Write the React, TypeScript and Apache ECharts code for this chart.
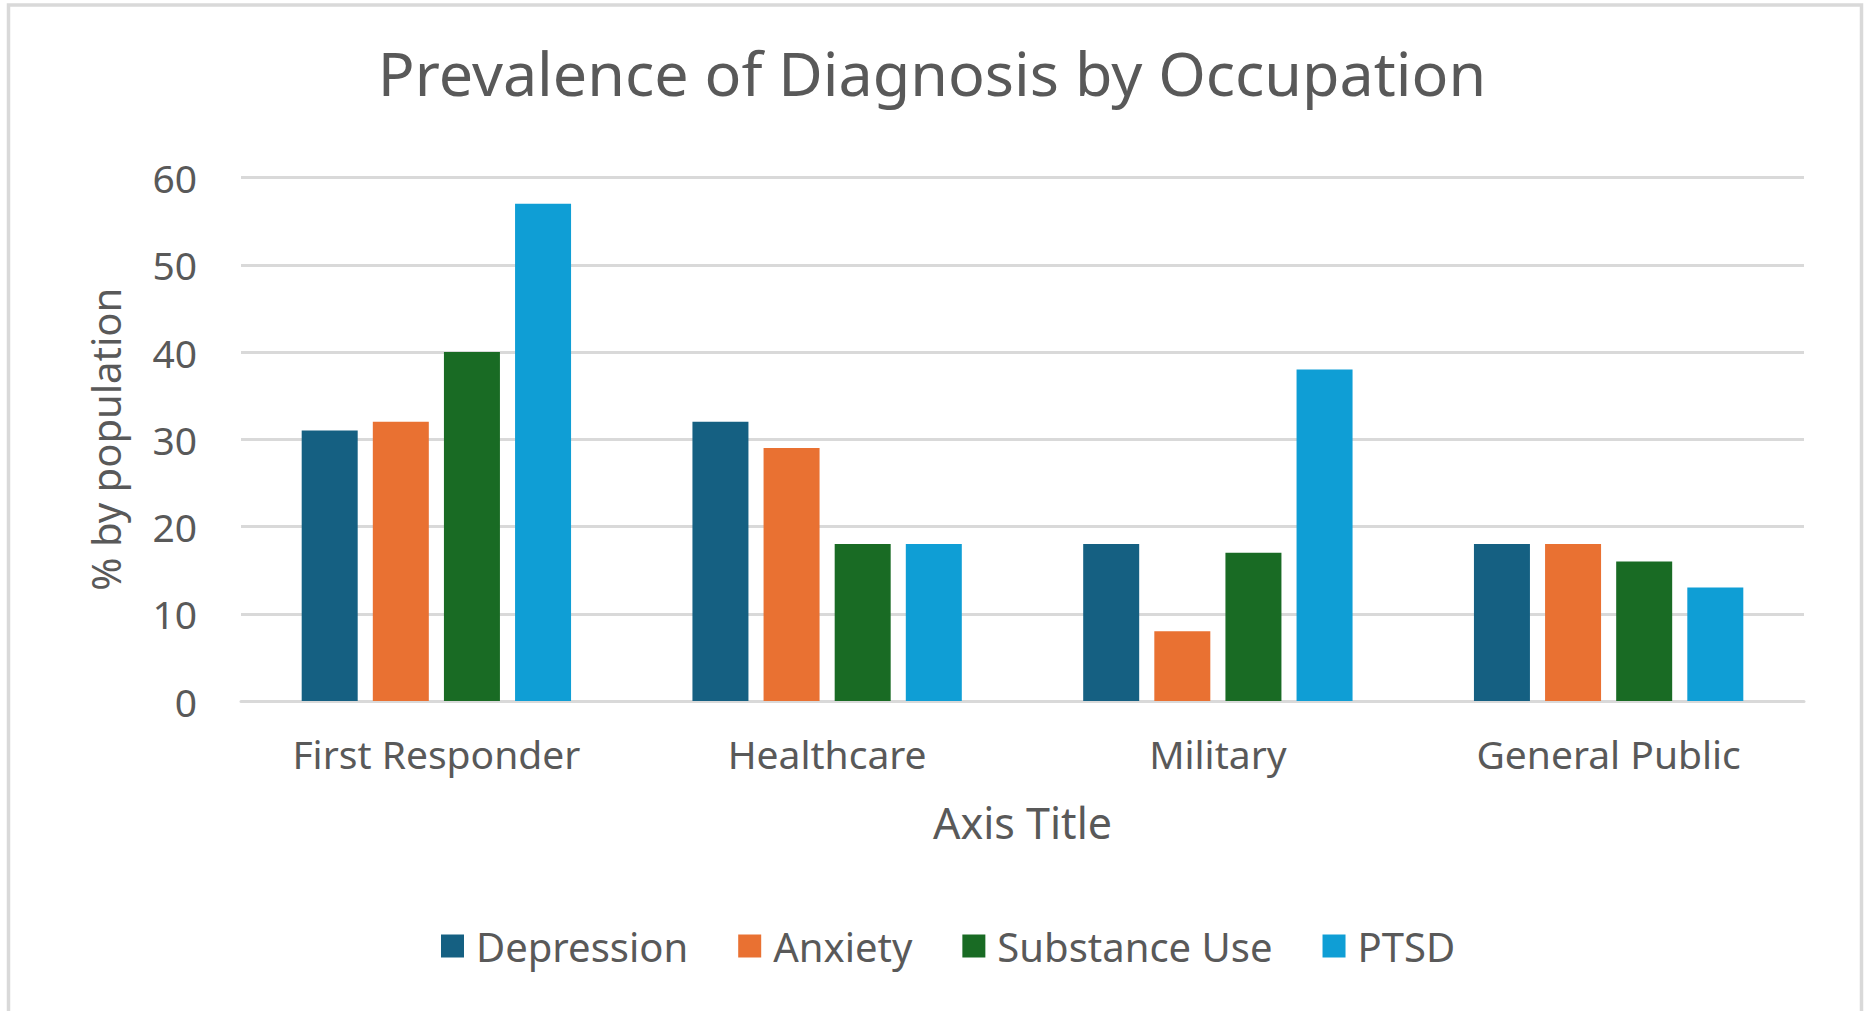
import React, { useEffect, useRef } from "react";
import * as echarts from "echarts";

const categories = ["First Responder", "Healthcare", "Military", "General Public"];
const depression = [31, 32, 18, 18];
const anxiety = [32, 29, 8, 18];
const substanceUse = [40, 18, 17, 16];
const ptsd = [57, 18, 38, 13];
const seriesNames = ["Depression", "Anxiety", "Substance Use", "PTSD"];
const colors = ["#156082", "#E97132", "#196B24", "#0F9ED5"];

const FONT = "'Noto Sans', sans-serif";

export default function App() {
  const ref = useRef<HTMLDivElement>(null);
  useEffect(() => {
    if (!ref.current) return;
    const chart = echarts.init(ref.current, undefined, { renderer: "svg" });
    const values = [depression, anxiety, substanceUse, ptsd];
    chart.setOption({
      animation: false,
      backgroundColor: "#ffffff",
      textStyle: { fontFamily: FONT },
      title: {
        text: "Prevalence of Diagnosis by Occupation",
        left: "center",
        top: 37,
        textStyle: { fontFamily: FONT, fontSize: 61, fontWeight: "normal", color: "#595959" },
      },
      graphic: [
        {
          type: "rect",
          shape: { x: 8.5, y: 5, width: 1853, height: 1030 },
          style: { fill: "none", stroke: "#d9d9d9", lineWidth: 3.5 },
          silent: true,
        },
      ],
      legend: {
        data: seriesNames,
        left: 436,
        top: 921,
        itemWidth: 23,
        itemHeight: 23,
        itemGap: 50,
        icon: "rect",
        textStyle: { fontFamily: FONT, fontSize: 40, color: "#595959", padding: [0, 0, 0, 7] },
      },
      grid: { left: 241, right: 60, top: 177.5, bottom: 310, containLabel: false },
      xAxis: {
        type: "category",
        data: categories,
        name: "Axis Title",
        nameLocation: "middle",
        nameGap: 100,
        nameTextStyle: { fontFamily: FONT, fontSize: 43, color: "#595959" },
        axisLine: { show: true, lineStyle: { color: "#d9d9d9", width: 3 } },
        axisTick: { show: false },
        axisLabel: { margin: 33, fontFamily: FONT, fontSize: 39, color: "#595959" },
      },
      yAxis: {
        type: "value",
        min: 0,
        max: 60,
        interval: 10,
        name: "% by population",
        nameLocation: "middle",
        nameGap: 116,
        nameTextStyle: { fontFamily: FONT, fontSize: 40, color: "#595959" },
        axisLine: { show: false },
        axisTick: { show: false },
        axisLabel: { margin: 44, fontFamily: FONT, fontSize: 39, color: "#595959" },
        splitLine: { lineStyle: { color: "#d9d9d9", width: 3 } },
      },
      series: seriesNames.map((name, i) => ({
        name,
        type: "bar",
        data: values[i],
        barWidth: 56,
        barGap: "27%",
        itemStyle: { color: colors[i] },
      })),
    });
    return () => chart.dispose();
  }, []);
  return (
    <div
      ref={ref}
      style={{ position: "fixed", left: 0, top: 0, width: 1864, height: 1011 }}
    />
  );
}
